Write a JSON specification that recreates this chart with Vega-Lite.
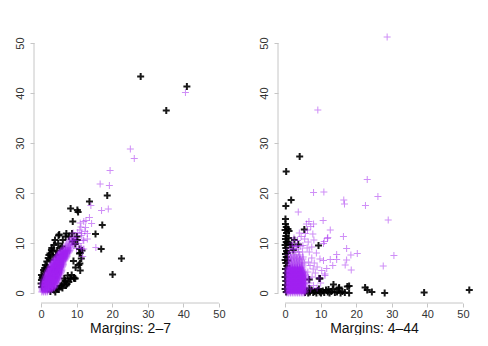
{
"$schema": "https://vega.github.io/schema/vega-lite/v6.json",
"background": "white",
"padding": {"left": 14, "top": 31, "right": 0, "bottom": 0},
"spacing": 32,
"config": {"view": {"stroke": null}, "font": "Liberation Sans",
 "axis": {"domain": false, "grid": false, "tickSize": 4, "tickColor": "#c6c6c6", "labelColor": "#333333", "labelFontSize": 11, "labelFlush": false, "labelOverlap": false, "titleFontSize": 14, "titleFontWeight": "normal", "titleColor": "#111111", "titlePadding": 2},
 "axisX": {"labelPadding": 1},
 "axisY": {"labelPadding": 5, "labelAngle": -90}},
"datasets": {
"LB": [
{"x":28.0,"y":43.3},{"x":41.0,"y":41.3},{"x":35.2,"y":36.5},{"x":13.6,"y":18.3},{"x":18.6,"y":19.5},{"x":8.3,"y":16.9},{"x":10.2,"y":16.6},{"x":10.4,"y":16.2},{"x":8.9,"y":14.3},{"x":17.2,"y":13.6},{"x":15.3,"y":11.8},{"x":16.9,"y":8.8},{"x":22.6,"y":6.9},{"x":20.1,"y":3.7},
{"x":0.0,"y":1.9},{"x":0.1,"y":2.6},{"x":0.1,"y":3.6},{"x":0.4,"y":3.3},{"x":0.7,"y":4.6},{"x":0.9,"y":4.3},{"x":1.2,"y":5.6},{"x":1.6,"y":6.3},{"x":1.7,"y":5.2},{"x":2.2,"y":7.6},{"x":2.6,"y":6.6},{"x":2.5,"y":7.9},{"x":3.3,"y":8.3},{"x":3.6,"y":9.6},{"x":4.2,"y":7.6},{"x":4.8,"y":9.9},{"x":3.9,"y":10.6},{"x":4.9,"y":11.5},{"x":5.9,"y":9.3},{"x":6.1,"y":10.6},{"x":5.1,"y":11.7},{"x":7.1,"y":11.9},{"x":6.9,"y":11.3},{"x":7.8,"y":11.3},{"x":8.7,"y":11.9},{"x":8.9,"y":10.3},{"x":9.6,"y":9.8},{"x":10.1,"y":11.3},{"x":10.2,"y":10.6},{"x":3.0,"y":9.0},{"x":2.0,"y":7.0},{"x":1.0,"y":5.0},{"x":0.3,"y":3.0},{"x":3.4,"y":7.3},{"x":2.9,"y":8.6},{"x":4.5,"y":8.5},{"x":5.4,"y":9.0},{"x":0.2,"y":1.2},
{"x":2.6,"y":0.3},{"x":3.6,"y":0.6},{"x":4.5,"y":0.9},{"x":5.4,"y":1.4},{"x":5.8,"y":1.5},{"x":6.4,"y":1.8},{"x":6.7,"y":2.3},{"x":6.8,"y":2.5},{"x":7.3,"y":1.8},{"x":8.2,"y":2.9},{"x":8.3,"y":2.9},{"x":9.2,"y":3.1},{"x":9.3,"y":2.9},{"x":9.6,"y":2.9},{"x":9.7,"y":5.1},{"x":9.1,"y":6.4},{"x":10.6,"y":5.6},{"x":10.9,"y":5.9},{"x":11.0,"y":4.5},{"x":11.3,"y":6.9},{"x":10.8,"y":7.9},{"x":11.0,"y":8.0},{"x":10.8,"y":8.8},{"x":11.5,"y":8.5},{"x":4.0,"y":0.2},{"x":5.0,"y":0.7},{"x":6.0,"y":1.0},{"x":7.0,"y":1.5},{"x":7.8,"y":2.2},{"x":8.6,"y":3.6},{"x":6.5,"y":2.9},{"x":7.5,"y":3.5}
],
"LP": [
{"x":40.6,"y":40.1},{"x":25.1,"y":28.8},{"x":26.2,"y":26.9},{"x":19.4,"y":24.5},{"x":16.6,"y":21.8},{"x":19.2,"y":21.5},{"x":17.0,"y":16.5},{"x":18.9,"y":16.8},{"x":14.0,"y":17.5},{"x":13.6,"y":15.1},{"x":12.0,"y":14.3},{"x":12.5,"y":13.1},{"x":11.2,"y":13.2},{"x":14.2,"y":13.9},{"x":13.0,"y":11.9},{"x":11.4,"y":11.9},{"x":15.4,"y":9.1},{"x":12.3,"y":12.3},{"x":11.8,"y":10.6},{"x":10.9,"y":12.6},{"x":10.3,"y":12.1},{"x":9.8,"y":11.0},{"x":10.6,"y":9.9},{"x":11.2,"y":9.2},{"x":9.5,"y":10.5},{"x":9.0,"y":12.0},{"x":12.0,"y":8.8},{"x":11.7,"y":7.3},{"x":10.0,"y":8.9},{"x":11.0,"y":14.0},{"x":12.0,"y":10.5},{"x":11.3,"y":11.5},{"x":13.0,"y":10.8},{"x":12.6,"y":14.5},{"x":11.4,"y":8.9},{"x":9.2,"y":9.6},
{"x":0.2,"y":0.2},{"x":0.7,"y":0.2},{"x":1.2,"y":0.2},{"x":1.7,"y":0.2},
{"x":0.45,"y":0.6},{"x":0.95,"y":0.6},{"x":1.45,"y":0.6},{"x":1.95,"y":0.6},{"x":2.45,"y":0.6},{"x":2.95,"y":0.6},
{"x":0.2,"y":1.0},{"x":0.7,"y":1.0},{"x":1.2,"y":1.0},{"x":1.7,"y":1.0},{"x":2.2,"y":1.0},{"x":2.7,"y":1.0},{"x":3.2,"y":1.0},{"x":3.7,"y":1.0},
{"x":0.45,"y":1.4},{"x":0.95,"y":1.4},{"x":1.45,"y":1.4},{"x":1.95,"y":1.4},{"x":2.45,"y":1.4},{"x":2.95,"y":1.4},{"x":3.45,"y":1.4},{"x":3.95,"y":1.4},
{"x":0.3,"y":1.8},{"x":0.8,"y":1.8},{"x":1.3,"y":1.8},{"x":1.8,"y":1.8},{"x":2.3,"y":1.8},{"x":2.8,"y":1.8},{"x":3.3,"y":1.8},{"x":3.8,"y":1.8},{"x":4.3,"y":1.8},
{"x":0.55,"y":2.2},{"x":1.05,"y":2.2},{"x":1.55,"y":2.2},{"x":2.05,"y":2.2},{"x":2.55,"y":2.2},{"x":3.05,"y":2.2},{"x":3.55,"y":2.2},{"x":4.05,"y":2.2},{"x":4.55,"y":2.2},
{"x":0.8,"y":2.6},{"x":1.3,"y":2.6},{"x":1.8,"y":2.6},{"x":2.3,"y":2.6},{"x":2.8,"y":2.6},{"x":3.3,"y":2.6},{"x":3.8,"y":2.6},{"x":4.3,"y":2.6},{"x":4.8,"y":2.6},
{"x":1.05,"y":3.0},{"x":1.55,"y":3.0},{"x":2.05,"y":3.0},{"x":2.55,"y":3.0},{"x":3.05,"y":3.0},{"x":3.55,"y":3.0},{"x":4.05,"y":3.0},{"x":4.55,"y":3.0},{"x":5.05,"y":3.0},
{"x":1.2,"y":3.4},{"x":1.7,"y":3.4},{"x":2.2,"y":3.4},{"x":2.7,"y":3.4},{"x":3.2,"y":3.4},{"x":3.7,"y":3.4},{"x":4.2,"y":3.4},{"x":4.7,"y":3.4},{"x":5.2,"y":3.4},
{"x":1.45,"y":3.8},{"x":1.95,"y":3.8},{"x":2.45,"y":3.8},{"x":2.95,"y":3.8},{"x":3.45,"y":3.8},{"x":3.95,"y":3.8},{"x":4.45,"y":3.8},{"x":4.95,"y":3.8},{"x":5.45,"y":3.8},
{"x":1.7,"y":4.2},{"x":2.2,"y":4.2},{"x":2.7,"y":4.2},{"x":3.2,"y":4.2},{"x":3.7,"y":4.2},{"x":4.2,"y":4.2},{"x":4.7,"y":4.2},{"x":5.2,"y":4.2},{"x":5.7,"y":4.2},
{"x":1.95,"y":4.6},{"x":2.45,"y":4.6},{"x":2.95,"y":4.6},{"x":3.45,"y":4.6},{"x":3.95,"y":4.6},{"x":4.45,"y":4.6},{"x":4.95,"y":4.6},{"x":5.45,"y":4.6},{"x":5.85,"y":4.6},
{"x":2.3,"y":5.0},{"x":2.8,"y":5.0},{"x":3.3,"y":5.0},{"x":3.8,"y":5.0},{"x":4.3,"y":5.0},{"x":4.8,"y":5.0},{"x":5.3,"y":5.0},{"x":5.8,"y":5.0},
{"x":2.65,"y":5.4},{"x":3.15,"y":5.4},{"x":3.65,"y":5.4},{"x":4.15,"y":5.4},{"x":4.65,"y":5.4},{"x":5.15,"y":5.4},{"x":5.65,"y":5.4},{"x":6.1,"y":5.4},
{"x":2.95,"y":5.8},{"x":3.45,"y":5.8},{"x":3.95,"y":5.8},{"x":4.45,"y":5.8},{"x":4.95,"y":5.8},{"x":5.45,"y":5.8},{"x":5.95,"y":5.8},{"x":6.3,"y":5.8},
{"x":3.3,"y":6.2},{"x":3.8,"y":6.2},{"x":4.3,"y":6.2},{"x":4.8,"y":6.2},{"x":5.3,"y":6.2},{"x":5.8,"y":6.2},{"x":6.3,"y":6.2},
{"x":3.7,"y":6.6},{"x":4.2,"y":6.6},{"x":4.7,"y":6.6},{"x":5.2,"y":6.6},{"x":5.7,"y":6.6},{"x":6.2,"y":6.6},{"x":6.7,"y":6.6},
{"x":4.15,"y":7.0},{"x":4.65,"y":7.0},{"x":5.15,"y":7.0},{"x":5.65,"y":7.0},{"x":6.15,"y":7.0},{"x":6.65,"y":7.0},{"x":7.05,"y":7.0},
{"x":4.5,"y":7.4},{"x":5.0,"y":7.4},{"x":5.5,"y":7.4},{"x":6.0,"y":7.4},{"x":6.5,"y":7.4},{"x":7.0,"y":7.4},{"x":7.35,"y":7.4},
{"x":4.95,"y":7.8},{"x":5.45,"y":7.8},{"x":5.95,"y":7.8},{"x":6.45,"y":7.8},{"x":6.95,"y":7.8},{"x":7.45,"y":7.8},
{"x":5.4,"y":8.2},{"x":5.9,"y":8.2},{"x":6.4,"y":8.2},{"x":6.9,"y":8.2},{"x":7.4,"y":8.2},{"x":7.9,"y":8.2},
{"x":5.85,"y":8.6},{"x":6.35,"y":8.6},{"x":6.85,"y":8.6},{"x":7.35,"y":8.6},{"x":7.85,"y":8.6},{"x":8.2,"y":8.6},
{"x":6.3,"y":9.0},{"x":6.8,"y":9.0},{"x":7.3,"y":9.0},{"x":7.8,"y":9.0},{"x":8.3,"y":9.0},
{"x":6.8,"y":9.4},{"x":7.6,"y":9.4},{"x":8.4,"y":9.4},
{"x":7.2,"y":9.8},{"x":8.0,"y":9.8},{"x":8.8,"y":9.8},
{"x":7.6,"y":10.2},{"x":8.5,"y":10.2},{"x":8.0,"y":10.6},{"x":8.9,"y":10.6},{"x":8.4,"y":11.0},{"x":9.3,"y":11.0},
{"x":0.3,"y":0.4},{"x":0.8,"y":0.4},{"x":1.3,"y":0.4},{"x":1.8,"y":0.4},{"x":2.3,"y":0.4},
{"x":0.3,"y":0.8},{"x":0.8,"y":0.8},{"x":1.3,"y":0.8},{"x":1.8,"y":0.8},{"x":2.3,"y":0.8},{"x":2.8,"y":0.8},{"x":3.3,"y":0.8},
{"x":0.3,"y":1.2},{"x":0.8,"y":1.2},{"x":1.3,"y":1.2},{"x":1.8,"y":1.2},{"x":2.3,"y":1.2},{"x":2.8,"y":1.2},{"x":3.3,"y":1.2},{"x":3.8,"y":1.2},
{"x":0.4,"y":1.6},{"x":0.9,"y":1.6},{"x":1.4,"y":1.6},{"x":1.9,"y":1.6},{"x":2.4,"y":1.6},{"x":2.9,"y":1.6},{"x":3.4,"y":1.6},{"x":3.9,"y":1.6},
{"x":0.45,"y":2.0},{"x":0.95,"y":2.0},{"x":1.45,"y":2.0},{"x":1.95,"y":2.0},{"x":2.45,"y":2.0},{"x":2.95,"y":2.0},{"x":3.45,"y":2.0},{"x":3.95,"y":2.0},{"x":4.45,"y":2.0},
{"x":0.7,"y":2.4},{"x":1.2,"y":2.4},{"x":1.7,"y":2.4},{"x":2.2,"y":2.4},{"x":2.7,"y":2.4},{"x":3.2,"y":2.4},{"x":3.7,"y":2.4},{"x":4.2,"y":2.4},{"x":4.7,"y":2.4},
{"x":0.9,"y":2.8},{"x":1.4,"y":2.8},{"x":1.9,"y":2.8},{"x":2.4,"y":2.8},{"x":2.9,"y":2.8},{"x":3.4,"y":2.8},{"x":3.9,"y":2.8},{"x":4.4,"y":2.8},{"x":4.9,"y":2.8},
{"x":1.1,"y":3.2},{"x":1.6,"y":3.2},{"x":2.1,"y":3.2},{"x":2.6,"y":3.2},{"x":3.1,"y":3.2},{"x":3.6,"y":3.2},{"x":4.1,"y":3.2},{"x":4.6,"y":3.2},{"x":5.1,"y":3.2},
{"x":1.3,"y":3.6},{"x":1.8,"y":3.6},{"x":2.3,"y":3.6},{"x":2.8,"y":3.6},{"x":3.3,"y":3.6},{"x":3.8,"y":3.6},{"x":4.3,"y":3.6},{"x":4.8,"y":3.6},{"x":5.3,"y":3.6},
{"x":1.55,"y":4.0},{"x":2.05,"y":4.0},{"x":2.55,"y":4.0},{"x":3.05,"y":4.0},{"x":3.55,"y":4.0},{"x":4.05,"y":4.0},{"x":4.55,"y":4.0},{"x":5.05,"y":4.0},{"x":5.55,"y":4.0},
{"x":1.8,"y":4.4},{"x":2.3,"y":4.4},{"x":2.8,"y":4.4},{"x":3.3,"y":4.4},{"x":3.8,"y":4.4},{"x":4.3,"y":4.4},{"x":4.8,"y":4.4},{"x":5.3,"y":4.4},{"x":5.75,"y":4.4},
{"x":2.15,"y":4.8},{"x":2.65,"y":4.8},{"x":3.15,"y":4.8},{"x":3.65,"y":4.8},{"x":4.15,"y":4.8},{"x":4.65,"y":4.8},{"x":5.15,"y":4.8},{"x":5.65,"y":4.8},
{"x":2.5,"y":5.2},{"x":3.0,"y":5.2},{"x":3.5,"y":5.2},{"x":4.0,"y":5.2},{"x":4.5,"y":5.2},{"x":5.0,"y":5.2},{"x":5.5,"y":5.2},{"x":5.95,"y":5.2},
{"x":2.8,"y":5.6},{"x":3.3,"y":5.6},{"x":3.8,"y":5.6},{"x":4.3,"y":5.6},{"x":4.8,"y":5.6},{"x":5.3,"y":5.6},{"x":5.8,"y":5.6},{"x":6.2,"y":5.6},
{"x":3.1,"y":6.0},{"x":3.6,"y":6.0},{"x":4.1,"y":6.0},{"x":4.6,"y":6.0},{"x":5.1,"y":6.0},{"x":5.6,"y":6.0},{"x":6.1,"y":6.0},
{"x":3.5,"y":6.4},{"x":4.0,"y":6.4},{"x":4.5,"y":6.4},{"x":5.0,"y":6.4},{"x":5.5,"y":6.4},{"x":6.0,"y":6.4},{"x":6.5,"y":6.4},
{"x":3.9,"y":6.8},{"x":4.4,"y":6.8},{"x":4.9,"y":6.8},{"x":5.4,"y":6.8},{"x":5.9,"y":6.8},{"x":6.4,"y":6.8},{"x":6.85,"y":6.8},
{"x":4.3,"y":7.2},{"x":4.8,"y":7.2},{"x":5.3,"y":7.2},{"x":5.8,"y":7.2},{"x":6.3,"y":7.2},{"x":6.8,"y":7.2},{"x":7.2,"y":7.2},
{"x":4.7,"y":7.6},{"x":5.2,"y":7.6},{"x":5.7,"y":7.6},{"x":6.2,"y":7.6},{"x":6.7,"y":7.6},{"x":7.2,"y":7.6},
{"x":5.15,"y":8.0},{"x":5.65,"y":8.0},{"x":6.15,"y":8.0},{"x":6.65,"y":8.0},{"x":7.15,"y":8.0},{"x":7.65,"y":8.0},
{"x":5.6,"y":8.4},{"x":6.1,"y":8.4},{"x":6.6,"y":8.4},{"x":7.1,"y":8.4},{"x":7.6,"y":8.4},{"x":8.0,"y":8.4}
],
"RB": [
{"x":4.1,"y":27.3},{"x":0.3,"y":24.3},{"x":1.7,"y":18.6},{"x":0.2,"y":17.4},{"x":0.1,"y":14.8},{"x":1.1,"y":12.4},{"x":5.4,"y":12.7},{"x":3.7,"y":9.7},{"x":9.4,"y":9.5},{"x":2.3,"y":8.6},{"x":1.3,"y":9.7},{"x":2.6,"y":10.6},{"x":1.7,"y":9.6},{"x":9.8,"y":2.9},{"x":6.8,"y":2.7},{"x":13.6,"y":1.7},{"x":15.2,"y":1.1},{"x":18.0,"y":1.4},{"x":18.0,"y":0.0},{"x":22.5,"y":1.1},{"x":23.1,"y":0.6},{"x":24.4,"y":0.2},{"x":28.0,"y":0.0},{"x":39.1,"y":0.1},{"x":51.8,"y":0.6},
{"x":0.1,"y":13.8},{"x":0.3,"y":13.2},{"x":0.0,"y":12.6},{"x":0.4,"y":12.0},{"x":0.2,"y":11.4},{"x":0.1,"y":10.8},{"x":0.3,"y":10.2},{"x":0.0,"y":9.6},{"x":0.2,"y":9.0},{"x":0.4,"y":8.4},{"x":0.1,"y":7.8},{"x":0.3,"y":7.2},{"x":0.0,"y":6.6},{"x":0.2,"y":6.0},{"x":0.5,"y":5.4},{"x":0.1,"y":4.8},{"x":0.3,"y":4.0},{"x":0.0,"y":3.2},{"x":0.2,"y":2.4},{"x":0.1,"y":1.6},{"x":0.0,"y":0.8},{"x":0.3,"y":0.2},{"x":0.8,"y":12.8},{"x":1.0,"y":11.0},{"x":0.6,"y":8.0},{"x":0.7,"y":6.5},{"x":0.6,"y":10.0},
{"x":5.6,"y":0.1},{"x":6.0,"y":0.4},{"x":6.5,"y":0.0},{"x":7.0,"y":0.2},{"x":7.4,"y":0.6},{"x":7.9,"y":0.1},{"x":8.3,"y":0.3},{"x":8.8,"y":0.0},{"x":9.2,"y":0.5},{"x":9.7,"y":0.2},{"x":10.1,"y":0.0},{"x":10.6,"y":0.4},{"x":11.0,"y":0.1},{"x":11.5,"y":0.6},{"x":12.0,"y":0.2},{"x":12.5,"y":0.0},{"x":13.0,"y":0.3},{"x":13.4,"y":0.8},{"x":14.0,"y":0.1},{"x":14.6,"y":0.2},{"x":15.1,"y":0.9},{"x":15.6,"y":0.0},{"x":16.1,"y":0.3},{"x":16.8,"y":0.1},{"x":17.5,"y":1.3},{"x":6.8,"y":0.9},{"x":9.5,"y":0.8},{"x":12.2,"y":0.7},{"x":9.6,"y":2.9}
],
"RP": [
{"x":28.7,"y":51.2},{"x":9.2,"y":36.6},{"x":23.1,"y":22.7},{"x":26.1,"y":19.3},{"x":22.6,"y":17.5},{"x":16.5,"y":18.6},{"x":16.7,"y":17.8},{"x":8.0,"y":20.1},{"x":10.9,"y":20.2},{"x":3.7,"y":16.2},{"x":29.0,"y":14.6},{"x":10.7,"y":14.5},{"x":30.6,"y":7.5},{"x":27.6,"y":5.4},{"x":20.3,"y":7.9},{"x":16.4,"y":11.3},{"x":17.3,"y":8.9},{"x":18.5,"y":7.6},{"x":16.9,"y":5.6},{"x":18.6,"y":4.6},{"x":12.7,"y":12.6},{"x":12.0,"y":11.1},{"x":10.8,"y":9.9},{"x":8.1,"y":10.6},{"x":7.2,"y":13.3},{"x":6.3,"y":12.6},{"x":8.0,"y":13.8},{"x":6.0,"y":13.8},{"x":6.7,"y":14.3},{"x":11.2,"y":3.8},{"x":14.5,"y":6.7},{"x":14.5,"y":7.7},{"x":13.4,"y":5.5},{"x":12.7,"y":6.7},{"x":10.8,"y":6.5},{"x":11.7,"y":4.9},{"x":11.2,"y":3.5},{"x":10.3,"y":4.5},{"x":11.0,"y":10.3},{"x":11.9,"y":10.9},{"x":17.3,"y":6.6},
{"x":6.8,"y":8.2},{"x":7.5,"y":7.0},{"x":8.2,"y":6.0},{"x":9.0,"y":5.2},{"x":7.0,"y":5.5},{"x":8.5,"y":4.0},{"x":9.5,"y":3.0},{"x":7.6,"y":3.2},{"x":6.8,"y":2.0},{"x":8.0,"y":1.5},{"x":9.0,"y":1.0},{"x":10.0,"y":2.0},{"x":7.2,"y":0.8},{"x":9.8,"y":6.8},{"x":8.8,"y":8.0},{"x":7.5,"y":9.2},{"x":6.5,"y":10.2},{"x":5.5,"y":10.8},{"x":4.5,"y":11.3},{"x":3.5,"y":10.5},{"x":2.5,"y":11.0},{"x":5.0,"y":9.5},{"x":3.0,"y":9.3},{"x":6.2,"y":9.0},{"x":4.0,"y":12.0},{"x":5.7,"y":11.9},{"x":2.0,"y":10.0},{"x":7.8,"y":11.8},{"x":6.6,"y":6.2},{"x":6.4,"y":4.2},{"x":6.6,"y":3.0},{"x":7.9,"y":4.8},
{"x":0.5,"y":0.0},{"x":1.0,"y":0.0},{"x":1.5,"y":0.0},{"x":2.0,"y":0.0},{"x":2.5,"y":0.0},{"x":3.0,"y":0.0},{"x":3.5,"y":0.0},{"x":4.0,"y":0.0},{"x":4.5,"y":0.0},{"x":5.0,"y":0.0},{"x":5.5,"y":0.0},
{"x":0.75,"y":0.4},{"x":1.25,"y":0.4},{"x":1.75,"y":0.4},{"x":2.25,"y":0.4},{"x":2.75,"y":0.4},{"x":3.25,"y":0.4},{"x":3.75,"y":0.4},{"x":4.25,"y":0.4},{"x":4.75,"y":0.4},{"x":5.25,"y":0.4},{"x":5.75,"y":0.4},
{"x":0.5,"y":0.8},{"x":1.0,"y":0.8},{"x":1.5,"y":0.8},{"x":2.0,"y":0.8},{"x":2.5,"y":0.8},{"x":3.0,"y":0.8},{"x":3.5,"y":0.8},{"x":4.0,"y":0.8},{"x":4.5,"y":0.8},{"x":5.0,"y":0.8},{"x":5.5,"y":0.8},
{"x":0.75,"y":1.2},{"x":1.25,"y":1.2},{"x":1.75,"y":1.2},{"x":2.25,"y":1.2},{"x":2.75,"y":1.2},{"x":3.25,"y":1.2},{"x":3.75,"y":1.2},{"x":4.25,"y":1.2},{"x":4.75,"y":1.2},{"x":5.25,"y":1.2},{"x":5.75,"y":1.2},
{"x":0.5,"y":1.6},{"x":1.0,"y":1.6},{"x":1.5,"y":1.6},{"x":2.0,"y":1.6},{"x":2.5,"y":1.6},{"x":3.0,"y":1.6},{"x":3.5,"y":1.6},{"x":4.0,"y":1.6},{"x":4.5,"y":1.6},{"x":5.0,"y":1.6},{"x":5.5,"y":1.6},
{"x":0.75,"y":2.0},{"x":1.25,"y":2.0},{"x":1.75,"y":2.0},{"x":2.25,"y":2.0},{"x":2.75,"y":2.0},{"x":3.25,"y":2.0},{"x":3.75,"y":2.0},{"x":4.25,"y":2.0},{"x":4.75,"y":2.0},{"x":5.25,"y":2.0},{"x":5.75,"y":2.0},
{"x":0.5,"y":2.4},{"x":1.0,"y":2.4},{"x":1.5,"y":2.4},{"x":2.0,"y":2.4},{"x":2.5,"y":2.4},{"x":3.0,"y":2.4},{"x":3.5,"y":2.4},{"x":4.0,"y":2.4},{"x":4.5,"y":2.4},{"x":5.0,"y":2.4},{"x":5.5,"y":2.4},
{"x":0.75,"y":2.8},{"x":1.25,"y":2.8},{"x":1.75,"y":2.8},{"x":2.25,"y":2.8},{"x":2.75,"y":2.8},{"x":3.25,"y":2.8},{"x":3.75,"y":2.8},{"x":4.25,"y":2.8},{"x":4.75,"y":2.8},{"x":5.25,"y":2.8},{"x":5.75,"y":2.8},
{"x":0.5,"y":3.2},{"x":1.0,"y":3.2},{"x":1.5,"y":3.2},{"x":2.0,"y":3.2},{"x":2.5,"y":3.2},{"x":3.0,"y":3.2},{"x":3.5,"y":3.2},{"x":4.0,"y":3.2},{"x":4.5,"y":3.2},{"x":5.0,"y":3.2},{"x":5.5,"y":3.2},
{"x":0.75,"y":3.6},{"x":1.25,"y":3.6},{"x":1.75,"y":3.6},{"x":2.25,"y":3.6},{"x":2.75,"y":3.6},{"x":3.25,"y":3.6},{"x":3.75,"y":3.6},{"x":4.25,"y":3.6},{"x":4.75,"y":3.6},{"x":5.25,"y":3.6},{"x":5.75,"y":3.6},
{"x":0.5,"y":4.0},{"x":1.0,"y":4.0},{"x":1.5,"y":4.0},{"x":2.0,"y":4.0},{"x":2.5,"y":4.0},{"x":3.0,"y":4.0},{"x":3.5,"y":4.0},{"x":4.0,"y":4.0},{"x":4.5,"y":4.0},{"x":5.0,"y":4.0},{"x":5.5,"y":4.0},
{"x":0.75,"y":4.4},{"x":1.25,"y":4.4},{"x":1.75,"y":4.4},{"x":2.25,"y":4.4},{"x":2.75,"y":4.4},{"x":3.25,"y":4.4},{"x":3.75,"y":4.4},{"x":4.25,"y":4.4},{"x":4.75,"y":4.4},{"x":5.25,"y":4.4},
{"x":0.5,"y":4.8},{"x":1.0,"y":4.8},{"x":1.5,"y":4.8},{"x":2.0,"y":4.8},{"x":2.5,"y":4.8},{"x":3.0,"y":4.8},{"x":3.5,"y":4.8},{"x":4.0,"y":4.8},{"x":4.5,"y":4.8},{"x":5.0,"y":4.8},
{"x":1.0,"y":5.2},{"x":1.5,"y":5.2},{"x":2.0,"y":5.2},{"x":2.5,"y":5.2},{"x":3.0,"y":5.2},{"x":3.5,"y":5.2},{"x":4.0,"y":5.2},{"x":4.5,"y":5.2},{"x":5.0,"y":5.2},
{"x":1.25,"y":5.6},{"x":2.0,"y":5.6},{"x":2.75,"y":5.6},{"x":3.5,"y":5.6},{"x":4.25,"y":5.6},{"x":5.0,"y":5.6},
{"x":1.0,"y":6.0},{"x":1.75,"y":6.0},{"x":2.5,"y":6.0},{"x":3.25,"y":6.0},{"x":4.0,"y":6.0},{"x":4.75,"y":6.0},{"x":5.5,"y":6.0},
{"x":1.4,"y":6.4},{"x":2.2,"y":6.4},{"x":3.0,"y":6.4},{"x":3.8,"y":6.4},{"x":4.6,"y":6.4},
{"x":1.0,"y":6.8},{"x":1.8,"y":6.8},{"x":2.6,"y":6.8},{"x":3.4,"y":6.8},{"x":4.2,"y":6.8},{"x":5.0,"y":6.8},
{"x":1.5,"y":7.2},{"x":2.4,"y":7.2},{"x":3.3,"y":7.2},{"x":4.2,"y":7.2},{"x":5.1,"y":7.2},
{"x":1.0,"y":7.6},{"x":2.0,"y":7.6},{"x":3.0,"y":7.6},{"x":4.0,"y":7.6},
{"x":1.6,"y":8.2},{"x":2.7,"y":8.2},{"x":3.8,"y":8.2},{"x":4.9,"y":8.2},
{"x":1.2,"y":8.8},{"x":2.4,"y":8.8},{"x":3.6,"y":8.8},
{"x":2.0,"y":9.4},{"x":3.2,"y":9.4},{"x":4.4,"y":9.4},
{"x":0.6,"y":0.2},{"x":1.1,"y":0.2},{"x":1.6,"y":0.2},{"x":2.1,"y":0.2},{"x":2.6,"y":0.2},{"x":3.1,"y":0.2},{"x":3.6,"y":0.2},{"x":4.1,"y":0.2},{"x":4.6,"y":0.2},{"x":5.1,"y":0.2},{"x":5.6,"y":0.2},
{"x":0.85,"y":0.6},{"x":1.35,"y":0.6},{"x":1.85,"y":0.6},{"x":2.35,"y":0.6},{"x":2.85,"y":0.6},{"x":3.35,"y":0.6},{"x":3.85,"y":0.6},{"x":4.35,"y":0.6},{"x":4.85,"y":0.6},{"x":5.35,"y":0.6},
{"x":0.6,"y":1.0},{"x":1.1,"y":1.0},{"x":1.6,"y":1.0},{"x":2.1,"y":1.0},{"x":2.6,"y":1.0},{"x":3.1,"y":1.0},{"x":3.6,"y":1.0},{"x":4.1,"y":1.0},{"x":4.6,"y":1.0},{"x":5.1,"y":1.0},{"x":5.6,"y":1.0},
{"x":0.85,"y":1.4},{"x":1.35,"y":1.4},{"x":1.85,"y":1.4},{"x":2.35,"y":1.4},{"x":2.85,"y":1.4},{"x":3.35,"y":1.4},{"x":3.85,"y":1.4},{"x":4.35,"y":1.4},{"x":4.85,"y":1.4},{"x":5.35,"y":1.4},
{"x":0.6,"y":1.8},{"x":1.1,"y":1.8},{"x":1.6,"y":1.8},{"x":2.1,"y":1.8},{"x":2.6,"y":1.8},{"x":3.1,"y":1.8},{"x":3.6,"y":1.8},{"x":4.1,"y":1.8},{"x":4.6,"y":1.8},{"x":5.1,"y":1.8},{"x":5.6,"y":1.8},
{"x":0.85,"y":2.2},{"x":1.35,"y":2.2},{"x":1.85,"y":2.2},{"x":2.35,"y":2.2},{"x":2.85,"y":2.2},{"x":3.35,"y":2.2},{"x":3.85,"y":2.2},{"x":4.35,"y":2.2},{"x":4.85,"y":2.2},{"x":5.35,"y":2.2},
{"x":0.6,"y":2.6},{"x":1.1,"y":2.6},{"x":1.6,"y":2.6},{"x":2.1,"y":2.6},{"x":2.6,"y":2.6},{"x":3.1,"y":2.6},{"x":3.6,"y":2.6},{"x":4.1,"y":2.6},{"x":4.6,"y":2.6},{"x":5.1,"y":2.6},{"x":5.6,"y":2.6},
{"x":0.85,"y":3.0},{"x":1.35,"y":3.0},{"x":1.85,"y":3.0},{"x":2.35,"y":3.0},{"x":2.85,"y":3.0},{"x":3.35,"y":3.0},{"x":3.85,"y":3.0},{"x":4.35,"y":3.0},{"x":4.85,"y":3.0},{"x":5.35,"y":3.0},
{"x":0.6,"y":3.4},{"x":1.1,"y":3.4},{"x":1.6,"y":3.4},{"x":2.1,"y":3.4},{"x":2.6,"y":3.4},{"x":3.1,"y":3.4},{"x":3.6,"y":3.4},{"x":4.1,"y":3.4},{"x":4.6,"y":3.4},{"x":5.1,"y":3.4},{"x":5.6,"y":3.4},
{"x":0.85,"y":3.8},{"x":1.35,"y":3.8},{"x":1.85,"y":3.8},{"x":2.35,"y":3.8},{"x":2.85,"y":3.8},{"x":3.35,"y":3.8},{"x":3.85,"y":3.8},{"x":4.35,"y":3.8},{"x":4.85,"y":3.8},{"x":5.35,"y":3.8},
{"x":0.6,"y":4.2},{"x":1.1,"y":4.2},{"x":1.6,"y":4.2},{"x":2.1,"y":4.2},{"x":2.6,"y":4.2},{"x":3.1,"y":4.2},{"x":3.6,"y":4.2},{"x":4.1,"y":4.2},{"x":4.6,"y":4.2},{"x":5.1,"y":4.2},
{"x":0.85,"y":4.6},{"x":1.35,"y":4.6},{"x":1.85,"y":4.6},{"x":2.35,"y":4.6},{"x":2.85,"y":4.6},{"x":3.35,"y":4.6},{"x":3.85,"y":4.6},{"x":4.35,"y":4.6},{"x":4.85,"y":4.6},
{"x":1.1,"y":5.0},{"x":1.6,"y":5.0},{"x":2.1,"y":5.0},{"x":2.6,"y":5.0},{"x":3.1,"y":5.0},{"x":3.6,"y":5.0},{"x":4.1,"y":5.0},{"x":4.6,"y":5.0}
]
},
"hconcat": [
{
"width": 192, "height": 270,
"layer": [
{"data": {"values": [{}]}, "mark": {"type": "rule", "color": "#c6c6c6", "strokeWidth": 1},
 "encoding": {"x": {"datum": 0, "type": "quantitative", "scale": {"domain": [-2, 52], "nice": false, "zero": false}, "axis": {"values": [0, 10, 20, 30, 40, 50]}, "title": "Margins: 2–7"}, "x2": {"datum": 50}, "y": {"datum": -2, "type": "quantitative", "scale": {"domain": [-2, 52], "nice": false, "zero": false}, "axis": {"values": [0, 10, 20, 30, 40, 50]}, "title": null}}},
{"data": {"values": [{}]}, "mark": {"type": "rule", "color": "#c6c6c6", "strokeWidth": 1},
 "encoding": {"x": {"datum": -2, "type": "quantitative", "scale": {"domain": [-2, 52], "nice": false, "zero": false}, "axis": {"values": [0, 10, 20, 30, 40, 50]}, "title": "Margins: 2–7"}, "y": {"datum": 0, "type": "quantitative", "scale": {"domain": [-2, 52], "nice": false, "zero": false}, "axis": {"values": [0, 10, 20, 30, 40, 50]}, "title": null}, "y2": {"datum": 50}}},
{"data": {"name": "LB"}, "mark": {"type": "point", "shape": "M-1,0H1M0,-1V1", "filled": false, "stroke": "#000000", "strokeWidth": 2, "size": 49, "opacity": 0.9},
 "encoding": {
  "x": {"field": "x", "type": "quantitative", "scale": {"domain": [-2, 52], "nice": false, "zero": false}, "axis": {"values": [0, 10, 20, 30, 40, 50]}, "title": "Margins: 2–7"},
  "y": {"field": "y", "type": "quantitative", "scale": {"domain": [-2, 52], "nice": false, "zero": false}, "axis": {"values": [0, 10, 20, 30, 40, 50]}, "title": null}}},
{"data": {"name": "LP"}, "mark": {"type": "point", "shape": "M-1,0H1M0,-1V1", "filled": false, "stroke": "#A020F0", "strokeWidth": 1, "size": 49, "opacity": 0.5},
 "encoding": {
  "x": {"field": "x", "type": "quantitative", "scale": {"domain": [-2, 52], "nice": false, "zero": false}, "axis": {"values": [0, 10, 20, 30, 40, 50]}, "title": "Margins: 2–7"},
  "y": {"field": "y", "type": "quantitative", "scale": {"domain": [-2, 52], "nice": false, "zero": false}, "axis": {"values": [0, 10, 20, 30, 40, 50]}, "title": null}}}
]
},
{
"width": 192, "height": 270,
"layer": [
{"data": {"values": [{}]}, "mark": {"type": "rule", "color": "#c6c6c6", "strokeWidth": 1},
 "encoding": {"x": {"datum": 0, "type": "quantitative", "scale": {"domain": [-2, 52], "nice": false, "zero": false}, "axis": {"values": [0, 10, 20, 30, 40, 50]}, "title": "Margins: 4–44"}, "x2": {"datum": 50}, "y": {"datum": -2, "type": "quantitative", "scale": {"domain": [-2, 52], "nice": false, "zero": false}, "axis": {"values": [0, 10, 20, 30, 40, 50]}, "title": null}}},
{"data": {"values": [{}]}, "mark": {"type": "rule", "color": "#c6c6c6", "strokeWidth": 1},
 "encoding": {"x": {"datum": -2, "type": "quantitative", "scale": {"domain": [-2, 52], "nice": false, "zero": false}, "axis": {"values": [0, 10, 20, 30, 40, 50]}, "title": "Margins: 4–44"}, "y": {"datum": 0, "type": "quantitative", "scale": {"domain": [-2, 52], "nice": false, "zero": false}, "axis": {"values": [0, 10, 20, 30, 40, 50]}, "title": null}, "y2": {"datum": 50}}},
{"data": {"name": "RB"}, "mark": {"type": "point", "shape": "M-1,0H1M0,-1V1", "filled": false, "stroke": "#000000", "strokeWidth": 2, "size": 49, "opacity": 0.9},
 "encoding": {
  "x": {"field": "x", "type": "quantitative", "scale": {"domain": [-2, 52], "nice": false, "zero": false}, "axis": {"values": [0, 10, 20, 30, 40, 50]}, "title": "Margins: 4–44"},
  "y": {"field": "y", "type": "quantitative", "scale": {"domain": [-2, 52], "nice": false, "zero": false}, "axis": {"values": [0, 10, 20, 30, 40, 50]}, "title": null}}},
{"data": {"name": "RP"}, "mark": {"type": "point", "shape": "M-1,0H1M0,-1V1", "filled": false, "stroke": "#A020F0", "strokeWidth": 1, "size": 49, "opacity": 0.5},
 "encoding": {
  "x": {"field": "x", "type": "quantitative", "scale": {"domain": [-2, 52], "nice": false, "zero": false}, "axis": {"values": [0, 10, 20, 30, 40, 50]}, "title": "Margins: 4–44"},
  "y": {"field": "y", "type": "quantitative", "scale": {"domain": [-2, 52], "nice": false, "zero": false}, "axis": {"values": [0, 10, 20, 30, 40, 50]}, "title": null}}}
]
}
]
}
